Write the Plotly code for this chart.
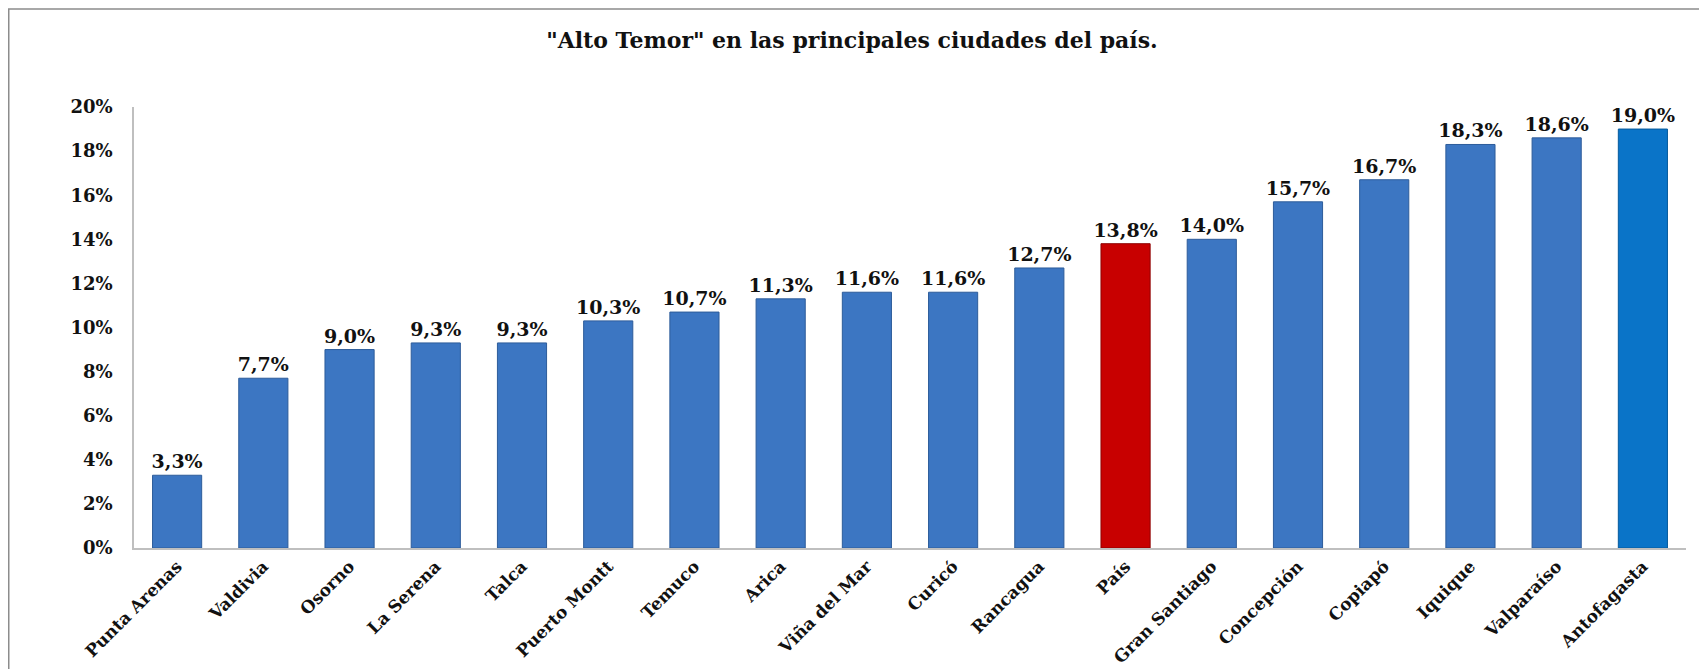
import plotly.graph_objects as go

cities = ["Punta Arenas", "Valdivia", "Osorno", "La Serena", "Talca", "Puerto Montt",
          "Temuco", "Arica", "Viña del Mar", "Curicó", "Rancagua", "País",
          "Gran Santiago", "Concepción", "Copiapó", "Iquique", "Valparaíso", "Antofagasta"]
values = [3.3, 7.7, 9.0, 9.3, 9.3, 10.3, 10.7, 11.3, 11.6, 11.6, 12.7, 13.8,
          14.0, 15.7, 16.7, 18.3, 18.6, 19.0]
bar_colors = ["#3C76C2"] * 11 + ["#C80000"] + ["#3C76C2"] * 5 + ["#0A74C8"]
line_colors = ["#2D5C9A"] * 11 + ["#8E0000"] + ["#2D5C9A"] * 5 + ["#065A9C"]
tick_vals = [0, 2, 4, 6, 8, 10, 12, 14, 16, 18, 20]
tick_text = [f"{v}%" for v in tick_vals]
labels = [f"{v:.1f}%".replace(".", ",") for v in values]

FONT = "DejaVu Serif"

fig = go.Figure(go.Bar(
    x=cities, y=values,
    marker=dict(color=bar_colors, line=dict(color=line_colors, width=1)),
    text=labels, textposition="outside", cliponaxis=False, constraintext="none",
    textfont=dict(family=FONT, size=19, color="#111111", weight="bold"),
    width=0.57,
))

# page body has an 8px margin, so the figure is sized and placed to compensate
W, H = 1699, 661
L, R, T, B = 126, 21, 99, 121
pw, ph = W - L - R, H - T - B

def px(x):
    return (x - L) / pw

def py(y):
    return (H - B - y) / ph

fig.update_layout(
    width=W, height=H,
    margin=dict(l=L, r=R, t=T, b=B, autoexpand=False),
    paper_bgcolor="white", plot_bgcolor="white",
    showlegend=False,
    title=dict(text='"Alto Temor" en las principales ciudades del país.',
               x=844 / W, xref="container", xanchor="center",
               y=1 - 32 / H, yref="container", yanchor="middle",
               font=dict(family=FONT, size=22, color="#111111", weight="bold")),
    font=dict(family=FONT),
    xaxis=dict(tickangle=-45, showline=True, linecolor="#BFBFBF", linewidth=1.5,
               tickfont=dict(family=FONT, size=17, color="#111111", weight="bold"),
               showgrid=False, ticks="", automargin=False),
    yaxis=dict(range=[0, 20], tickvals=tick_vals, ticktext=tick_text,
               showline=True, linecolor="#BFBFBF", linewidth=1.5,
               showgrid=False, zeroline=False, automargin=False,
               ticks="outside", ticklen=16, tickcolor="rgba(0,0,0,0)",
               tickfont=dict(family=FONT, size=18, color="#111111", weight="bold")),
    shapes=[dict(type="rect", xref="paper", yref="paper",
                 x0=px(0.75), x1=px(1693), y0=py(700), y1=py(1),
                 line=dict(color="#8C8C8C", width=1.5), fillcolor="rgba(0,0,0,0)",
                 layer="below")],
)

fig.write_html("out.html")
